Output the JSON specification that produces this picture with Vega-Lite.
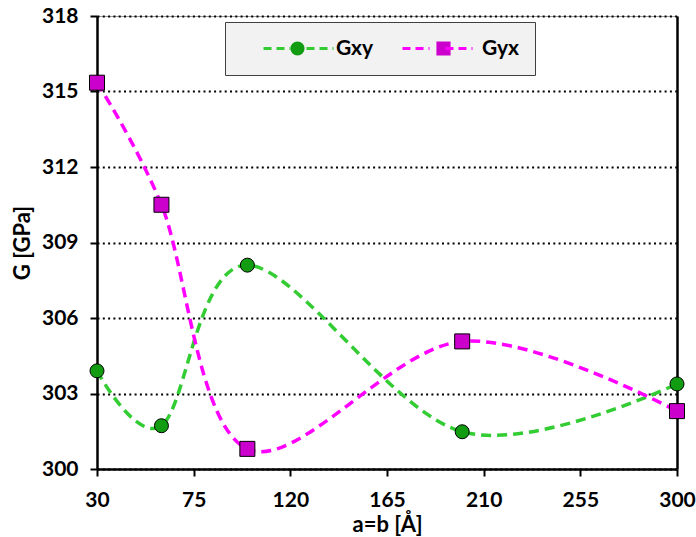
{
  "$schema": "https://vega.github.io/schema/vega-lite/v6.json",
  "width": 580,
  "height": 453,
  "autosize": "none",
  "padding": {"left": 97, "top": 16, "right": 19, "bottom": 68},
  "background": "white",
  "config": {
    "font": "Lato",
    "view": {"stroke": "#9a9a9a", "strokeWidth": 1}
  },
  "data": {
    "values": [
      {"a": 30, "Gxy": 303.9, "Gyx": 315.35},
      {"a": 60, "Gxy": 301.72, "Gyx": 310.5},
      {"a": 100, "Gxy": 308.1, "Gyx": 300.8},
      {"a": 200, "Gxy": 301.48, "Gyx": 305.07},
      {"a": 300, "Gxy": 303.38, "Gyx": 302.3}
    ]
  },
  "layer": [
    {
      "transform": [{"fold": ["Gxy", "Gyx"], "as": ["series", "G"]}],
      "mark": {"type": "line", "interpolate": "cardinal", "strokeWidth": 3.5, "strokeDash": [10, 6]},
      "encoding": {
        "x": {
          "field": "a", "type": "quantitative",
          "scale": {"domain": [30, 300], "nice": false, "zero": false},
          "axis": {
            "values": [30, 75, 120, 165, 210, 255, 300],
            "grid": false, "labelFlush": false, "labelOverlap": false,
            "domainColor": "black", "domainWidth": 2.5,
            "tickColor": "black", "tickWidth": 2, "tickSize": 7,
            "labelFontSize": 21, "labelFontWeight": "bold", "labelColor": "black", "labelPadding": 13,
            "title": "a=b [Å]", "titleFontSize": 22, "titleFontWeight": "bold", "titleColor": "black", "titlePadding": 4
          }
        },
        "y": {
          "field": "G", "type": "quantitative",
          "scale": {"domain": [300, 318], "nice": false, "zero": false},
          "axis": {
            "orient": "left",
            "values": [300, 303, 306, 309, 312, 315, 318],
            "grid": true, "gridColor": "black", "gridDash": [2, 3.3], "gridWidth": 2,
            "labelFlush": false, "labelOverlap": false,
            "domainColor": "black", "domainWidth": 2.5,
            "tickColor": "black", "tickWidth": 2, "tickSize": 7,
            "labelFontSize": 21, "labelFontWeight": "bold", "labelColor": "black", "labelPadding": 12,
            "title": "G [GPa]", "titleFontSize": 22, "titleFontWeight": "bold", "titleColor": "black", "titlePadding": 7
          }
        },
        "color": {
          "field": "series", "type": "nominal",
          "scale": {"range": ["#33cc33", "#ff00ff"]},
          "legend": {
            "orient": "none", "legendX": 128, "legendY": 6, "direction": "horizontal", "zindex": 1,
            "title": null, "symbolType": "M-7,0L-1.6,0M1.6,0L7,0", "symbolSize": 100,
            "symbolStrokeWidth": 3, "symbolDash": [8, 5], "symbolOffset": 47.5,
            "labelFontSize": 21, "labelFontWeight": "bold", "labelOpacity": 0,
            "labelExpr": "datum.label == 'Gyx' ? '               ' : '           '",
            "labelOffset": 27, "columnPadding": 43, "padding": 15.5, "clipHeight": 22
          }
        }
      }
    },
    {
      "transform": [{"fold": ["Gxy", "Gyx"], "as": ["marker", "G"]}],
      "mark": {"type": "point", "filled": true, "stroke": "black", "strokeWidth": 1, "opacity": 1},
      "encoding": {
        "x": {"field": "a", "type": "quantitative"},
        "y": {
          "field": "G", "type": "quantitative",
          "axis": {"orient": "right", "labels": false, "ticks": false, "grid": false, "title": null, "domainColor": "black", "domainWidth": 2.5}
        },
        "shape": {
          "field": "marker", "type": "nominal",
          "scale": {"domain": ["Gxy", "Gyx"], "range": ["circle", "square"]},
          "legend": {
            "orient": "none", "legendX": 128, "legendY": 6, "direction": "horizontal", "zindex": 0,
            "title": null, "symbolSize": 200, "symbolOffset": 46.5,
            "symbolStrokeColor": "black", "symbolStrokeWidth": 1,
            "labelFontSize": 21, "labelFontWeight": "bold", "labelColor": "black",
            "labelExpr": "datum.label == 'Gyx' ? datum.label + '       ' : datum.label + '  '",
            "labelOffset": 28, "columnPadding": 13, "padding": 15.5, "clipHeight": 22,
            "fillColor": "#f2f2f2", "strokeColor": "#404040"
          }
        },
        "fill": {
          "field": "marker", "type": "nominal",
          "scale": {"domain": ["Gxy", "Gyx"], "range": ["#129c12", "#cc00cc"]}
        },
        "size": {
          "field": "marker", "type": "nominal",
          "scale": {"range": [196, 225]},
          "legend": null
        }
      }
    }
  ],
  "resolve": {"axis": {"y": "independent"}}
}
